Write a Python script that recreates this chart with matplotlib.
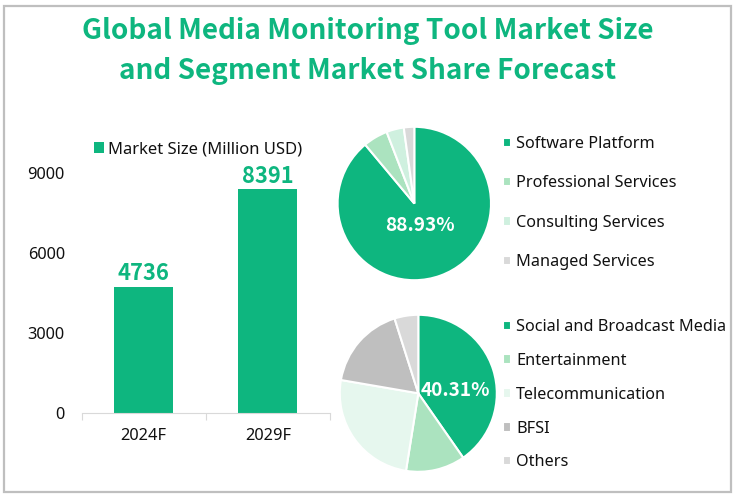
# -*- coding: utf-8 -*-
import matplotlib
matplotlib.use('Agg')
import matplotlib.pyplot as plt
from matplotlib.patches import Rectangle

plt.rcParams['font.family'] = ['Noto Sans', 'DejaVu Sans']
BOLD = ['Noto Sans CJK SC', 'DejaVu Sans']

W, H = 734, 497

GREEN = '#0EB67F'
INK = '#111111'

# bar data
years = ['2024F', '2029F']
market_size = [4736, 8391]
y_ticks = [0, 3000, 6000, 9000]

# top pie
solution_names = ['Software Platform', 'Professional Services', 'Consulting Services', 'Managed Services']
solution_share = [88.93, 5.2, 3.67, 2.2]
solution_colors = [GREEN, '#ABE3BF', '#CFF0DF', '#D9D9D9']

# bottom pie
industry_names = ['Social and Broadcast Media', 'Entertainment', 'Telecommunication', 'BFSI', 'Others']
industry_share = [40.31, 12.2, 25.2, 17.4, 4.89]
industry_colors = [GREEN, '#ABE3BF', '#E6F7EE', '#BFBFBF', '#D9D9D9']


def px_axes(fig, left, top, right, bottom):
    return fig.add_axes([left / W, 1 - bottom / H, (right - left) / W, (bottom - top) / H])


def pie_axes(fig, cx, cy, r):
    ax = px_axes(fig, cx - r, cy - r, cx + r, cy + r)
    ax.set_xlim(-1, 1)
    ax.set_ylim(-1, 1)
    return ax


fig = plt.figure(figsize=(W / 100, H / 100), dpi=100, facecolor='white')

# outer frame
fig.add_artist(Rectangle((4 / W, 1 - 492 / H), 727 / W, 486 / H, transform=fig.transFigure,
                         fill=False, edgecolor='#BFBFBF', linewidth=1.6))

fig.text(367.5 / W, 1 - 31 / H, 'Global Media Monitoring Tool Market Size', ha='center', va='center',
         fontsize=20.1, fontweight='bold', color=GREEN, family=BOLD)
fig.text(367.5 / W, 1 - 71 / H, 'and Segment Market Share Forecast', ha='center', va='center',
         fontsize=20.1, fontweight='bold', color=GREEN, family=BOLD)

# ---- bars
ax = px_axes(fig, 81.5, 173, 330, 413)
bars = ax.bar(range(2), market_size, width=0.476, color=GREEN, label='Market Size (Million USD)')
ax.set_xlim(-0.5, 1.5)
ax.set_ylim(0, 9000)
ax.set_yticks(y_ticks)
ax.set_xticks([-0.5, 0.5, 1.5])
ax.set_xticklabels([])
ax.set_xticks([0, 1], minor=True)
ax.set_xticklabels(years, minor=True, fontsize=11.8, color=INK)
for s in ['top', 'right', 'left']:
    ax.spines[s].set_visible(False)
ax.spines['bottom'].set_color('#D9D9D9')
ax.tick_params(axis='y', length=0, labelsize=11.8, labelcolor=INK, pad=12)
ax.tick_params(axis='x', which='major', length=5, color='#D9D9D9')
ax.tick_params(axis='x', which='minor', length=0, pad=11)
for x, v in enumerate(market_size):
    ax.text(x, v + 60, str(v), ha='center', va='bottom', fontsize=15.8, fontweight='bold', color=GREEN, family=BOLD)
leg = ax.legend(loc='center left', bbox_to_anchor=(0.05, 1.10), frameon=False, fontsize=11.95,
                handlelength=0.62, handleheight=0.62, handletextpad=0.2, borderpad=0, borderaxespad=0,
                labelcolor=INK)

# ---- top pie
ax1 = pie_axes(fig, 414.3, 203.5, 76.7)
wedges1, _ = ax1.pie(solution_share, colors=solution_colors, startangle=90, counterclock=False, radius=1,
                     wedgeprops={'edgecolor': 'white', 'linewidth': 1.5}, frame=False)
ax1.set_xlim(-1, 1)
ax1.set_ylim(-1, 1)
ax1.text(0.068, -0.29, '88.93%', ha='center', va='center', fontsize=13.7, fontweight='bold', color='white', family=BOLD)
fig.legend(wedges1, solution_names, loc='upper left', bbox_to_anchor=(503 / W, 1 - 136 / H), frameon=False,
           fontsize=11.7, handlelength=0.52, handleheight=0.52, handletextpad=0.3, labelspacing=1.44,
           borderpad=0, borderaxespad=0, labelcolor=INK)

# ---- bottom pie
ax2 = pie_axes(fig, 418.3, 393.3, 78.5)
wedges2, _ = ax2.pie(industry_share, colors=industry_colors, startangle=90, counterclock=False, radius=1,
                     wedgeprops={'edgecolor': 'white', 'linewidth': 1.5}, frame=False)
ax2.set_xlim(-1, 1)
ax2.set_ylim(-1, 1)
ax2.text(0.47, 0.04, '40.31%', ha='center', va='center', fontsize=13.7, fontweight='bold', color='white', family=BOLD)
fig.legend(wedges2, industry_names, loc='upper left', bbox_to_anchor=(503 / W, 1 - 319 / H), frameon=False,
           fontsize=11.7, handlelength=0.52, handleheight=0.52, handletextpad=0.3, labelspacing=1.1,
           borderpad=0, borderaxespad=0, labelcolor=INK)

fig.savefig('out.png', dpi=100)
